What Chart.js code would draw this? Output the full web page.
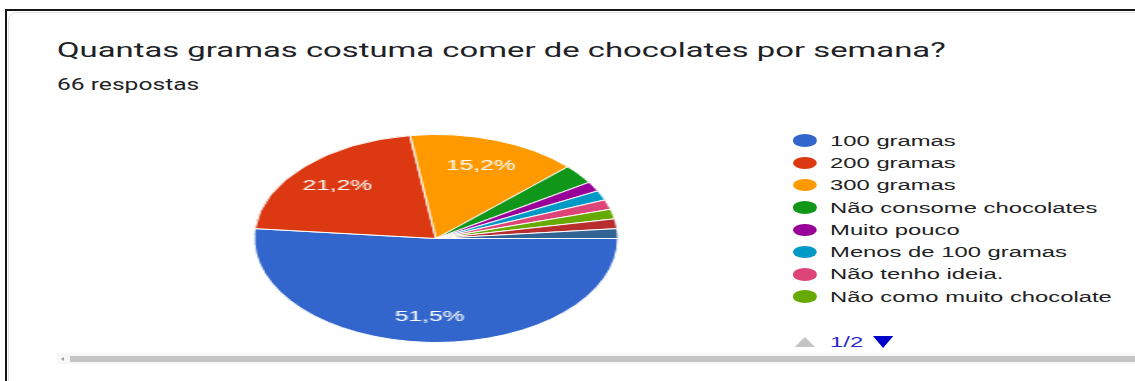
<!DOCTYPE html>
<html lang="pt-BR">
<head>
<meta charset="utf-8">
<title>Quantas gramas costuma comer de chocolates por semana?</title>
<script src="https://cdn.jsdelivr.net/npm/chart.js@4.4.1/dist/chart.umd.min.js"></script>
<style>
  html, body { margin: 0; padding: 0; background: #fff; }
  body { width: 1135px; height: 381px; position: relative; overflow: hidden; font-family: Roboto, Arial, sans-serif; }
  .frame-top { position: absolute; left: 5px; right: 0; top: 9px; height: 2px; background: #151515; }
  .frame-left { position: absolute; left: 5px; top: 9px; bottom: 0; width: 2px; background: #151515; }
  .card { position: absolute; left: 8px; top: 12px; width: 1140px; height: 400px; border: 1px solid #e2e2e9;
          border-radius: 8px 0 0 0; box-sizing: border-box; }
  .title { position: absolute; left: 57px; top: 40px; font: 400 21px/1 Roboto, sans-serif; color: #202124;
           white-space: nowrap; transform-origin: 0 0; }
  .sub { position: absolute; left: 57px; top: 76.5px; font: 400 16px/1 Roboto, sans-serif; color: #202124;
         white-space: nowrap; transform-origin: 0 0; }
  #pieWrap { position: absolute; left: 226px; top: 134px; transform: scaleX(1.75); transform-origin: 0 0; }
  #side { position: absolute; left: 793px; top: 129.5px; width: 190px; height: 230px; transform: scaleX(1.7);
          transform-origin: 0 0; font: 14px "Liberation Sans", Arial, sans-serif; color: #222; }
  .row { height: 22.3px; display: flex; align-items: center; white-space: nowrap; }
  .dot { width: 14px; height: 12.5px; border-radius: 50%; margin-right: 7.8px; flex: none; }
  .pg-up { position: absolute; left: 1.2px; top: 207px; width: 0; height: 0;
           border-left: 6.5px solid transparent; border-right: 6.5px solid transparent; border-bottom: 10px solid #c4c4c4; }
  .pg-text { position: absolute; left: 21.8px; top: 205px; line-height: 14px; color: #2b2bcc; }
  .pg-down { position: absolute; left: 47px; top: 206px; width: 0; height: 0;
             border-left: 6.5px solid transparent; border-right: 6.5px solid transparent; border-top: 12px solid #0000cc; }
  .track { position: absolute; left: 57px; right: 0; top: 353px; height: 11px; background: #f7f7f7; }
  .thumb { position: absolute; left: 70px; right: 0; top: 355.5px; height: 6.5px; background: #c4c4c4; }
  .arrow { position: absolute; left: 61px; top: 357px; width: 0; height: 0;
           border-top: 2px solid transparent; border-bottom: 2px solid transparent; border-right: 3px solid #9a9a9a; }
</style>
</head>
<body>
<div class="frame-top"></div>
<div class="frame-left"></div>
<div class="card"></div>

<div class="title" id="title">Quantas gramas costuma comer de chocolates por semana?</div>
<div class="sub" id="sub">66 respostas</div>

<div id="pieWrap"><canvas id="pie" width="240" height="209" style="width:240px;height:209px"></canvas></div>

<div id="side">
  <div id="legend"></div>
  <div class="pg-up"></div>
  <div class="pg-text">1/2</div>
  <div class="pg-down"></div>
</div>

<div class="track"></div>
<div class="thumb"></div>
<div class="arrow"></div>

<script>
// Answers to "Quantas gramas costuma comer de chocolates por semana?" (66 respostas)
const categories = [
  '100 gramas',
  '200 gramas',
  '300 gramas',
  'Não consome chocolates',
  'Muito pouco',
  'Menos de 100 gramas',
  'Não tenho ideia.',
  'Não como muito chocolate',
  'Outra resposta 1',
  'Outra resposta 2'
];
const counts = [34, 14, 10, 2, 1, 1, 1, 1, 1, 1];
const sliceColors = ['#3366cc', '#dc3912', '#ff9900', '#109618', '#990099',
                     '#0099c6', '#dd4477', '#66aa00', '#b82e2e', '#316395'];
const legendPageSize = 8;

const total = counts.reduce((a, b) => a + b, 0);
const pct = v => (v / total * 100).toFixed(1).replace('.', ',') + '%';

// white percentage text inside the larger slices
const sliceLabels = {
  id: 'sliceLabels',
  afterDatasetsDraw(chart) {
    const ctx = chart.ctx;
    const meta = chart.getDatasetMeta(0);
    ctx.save();
    ctx.font = '14px "Liberation Sans", Arial, sans-serif';
    ctx.fillStyle = '#ffffff';
    ctx.textAlign = 'center';
    ctx.textBaseline = 'middle';
    meta.data.forEach((arc, i) => {
      const v = counts[i];
      if (v / total < 0.05) return;
      const p = arc.getProps(['x', 'y', 'startAngle', 'endAngle', 'outerRadius'], true);
      const mid = (p.startAngle + p.endAngle) / 2;
      const r = p.outerRadius * 0.75;
      ctx.fillText(pct(v), p.x + Math.cos(mid) * r, p.y + Math.sin(mid) * r + 1);
    });
    ctx.restore();
  }
};

const chart = new Chart(document.getElementById('pie'), {
  type: 'pie',
  data: {
    labels: categories,
    datasets: [{
      data: counts,
      backgroundColor: sliceColors,
      borderColor: '#ffffff',
      borderWidth: 1,
      hoverOffset: 0
    }]
  },
  options: {
    responsive: false,
    animation: false,
    rotation: 90,
    layout: { padding: 0 },
    plugins: {
      legend: { display: false },
      tooltip: { enabled: false }
    }
  },
  plugins: [sliceLabels]
});

// first legend page, built from the chart's own legend items
const legendEl = document.getElementById('legend');
chart.options.plugins.legend.labels.generateLabels(chart)
  .slice(0, legendPageSize)
  .forEach(item => {
    const row = document.createElement('div');
    row.className = 'row';
    const dot = document.createElement('span');
    dot.className = 'dot';
    dot.style.background = item.fillStyle;
    const txt = document.createElement('span');
    txt.textContent = item.text;
    row.appendChild(dot);
    row.appendChild(txt);
    legendEl.appendChild(row);
  });

// heading text is drawn wide; stretch each line to its width
function stretch(id, width) {
  const el = document.getElementById(id);
  el.style.transform = 'scaleX(' + (width / el.offsetWidth) + ')';
}
stretch('title', 888);
stretch('sub', 143);
</script>
</body>
</html>
